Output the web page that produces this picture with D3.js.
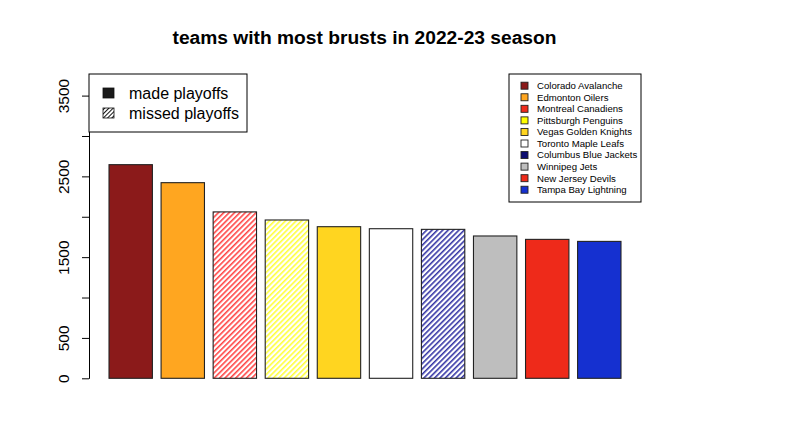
<!DOCTYPE html>
<html>
<head>
<meta charset="utf-8">
<script src="https://cdn.jsdelivr.net/npm/d3@7"></script>
<style>
  html, body { margin: 0; padding: 0; background: #fff; }
  svg { display: block; font-family: "Liberation Sans", Arial, Helvetica, sans-serif; }
</style>
</head>
<body>
<svg id="chart" width="789" height="433"></svg>
<script>
// ---- data ----
const teams = ["Colorado Avalanche", "Edmonton Oilers", "Montreal Canadiens", "Pittsburgh Penguins",
  "Vegas Golden Knights", "Toronto Maple Leafs", "Columbus Blue Jackets", "Winnipeg Jets",
  "New Jersey Devils", "Tampa Bay Lightning"];
const bursts = [2645, 2422, 2060, 1960, 1877, 1852, 1844, 1762, 1720, 1695];
const madePlayoffs = [true, true, false, false, true, true, false, true, true, true];
const teamColors = ["#8b1a1a", "#ffa620", "#ee2c1c", "#ffff00", "#ffd520", "#ffffff",
  "#0c0c70", "#bebebe", "#ee2a1a", "#1530d0"];
const hatchColors = ["#8b1a1a", "#ffa620", "#ff3a3a", "#ffff30", "#ffd520", "#ffffff",
  "#2a2aa0", "#bebebe", "#ee2a1a", "#1530d0"];
const yTicks = [0, 500, 1000, 1500, 2000, 2500, 3000, 3500];
const yLabelsShown = [0, 500, 1500, 2500, 3500];
const chartTitle = "teams with most brusts in 2022-23 season";
const statusLabels = ["made playoffs", "missed playoffs"];

// ---- drawing ----
const svg = d3.select("#chart");
const defs = svg.append("defs");

const x = d3.scaleBand().domain(teams).range([88.5, 641.5]).paddingInner(0.1667).paddingOuter(0.394);
const y = d3.scaleLinear().domain([0, 3500]).range([378.3, 95.6]);

// hatch patterns
const hs = 3.8;
teams.forEach((t, i) => {
  const p = defs.append("pattern")
    .attr("id", "hatch" + i)
    .attr("patternUnits", "userSpaceOnUse")
    .attr("width", hs).attr("height", hs)
    .attr("patternTransform", "rotate(45)");
  p.append("rect").attr("width", hs).attr("height", hs).attr("fill", "#fff");
  p.append("line").attr("x1", 0.8).attr("y1", 0).attr("x2", 0.8).attr("y2", hs)
    .attr("stroke", hatchColors[i]).attr("stroke-width", 1.5);
});
const lp = defs.append("pattern")
  .attr("id", "legendHatch").attr("patternUnits", "userSpaceOnUse")
  .attr("width", 3).attr("height", 3).attr("patternTransform", "rotate(45)");
lp.append("rect").attr("width", 3).attr("height", 3).attr("fill", "#fff");
lp.append("line").attr("x1", 0.5).attr("y1", 0).attr("x2", 0.5).attr("y2", 3)
  .attr("stroke", "#111").attr("stroke-width", 1);

// bars
svg.append("g").selectAll("rect").data(teams).join("rect")
  .attr("x", d => x(d))
  .attr("y", (d, i) => y(bursts[i]))
  .attr("width", x.bandwidth())
  .attr("height", (d, i) => y(0) - y(bursts[i]))
  .attr("fill", (d, i) => madePlayoffs[i] ? teamColors[i] : `url(#hatch${i})`)
  .attr("stroke", "#222").attr("stroke-width", 1.1);

// y axis
const yAxis = d3.axisLeft(y).tickValues(yTicks).tickSize(7).tickSizeOuter(0)
  .tickFormat(d => yLabelsShown.includes(d) ? d : "");
const ga = svg.append("g").attr("transform", "translate(89,0)").call(yAxis);
ga.select(".domain").attr("stroke", "#000");
ga.selectAll(".tick line").attr("stroke", "#000");
ga.selectAll(".tick text")
  .attr("font-size", 15.5).attr("fill", "#000")
  .attr("font-family", "Liberation Sans, Arial, sans-serif")
  .attr("text-anchor", "middle")
  .attr("x", null).attr("dy", null)
  .attr("transform", "translate(-20,0) rotate(-90)");

// title
svg.append("text").attr("x", 364.5).attr("y", 44)
  .attr("text-anchor", "middle").attr("font-weight", "bold").attr("font-size", 19.2)
  .text(chartTitle);

// legend 1 (status)
const l1 = svg.append("g");
l1.append("rect").attr("x", 89).attr("y", 74).attr("width", 158).attr("height", 58)
  .attr("fill", "#fff").attr("stroke", "#000");
statusLabels.forEach((s, i) => {
  const cy = 93 + i * 20;
  l1.append("rect").attr("x", 103).attr("y", cy - 5).attr("width", 11).attr("height", 10)
    .attr("fill", i === 0 ? "#1a1a1a" : "url(#legendHatch)").attr("stroke", "#111").attr("stroke-width", 0.8);
  l1.append("text").attr("x", 129).attr("y", cy + 5.5).attr("font-size", 16).text(s);
});

// legend 2 (teams)
const l2 = svg.append("g");
l2.append("rect").attr("x", 509).attr("y", 74).attr("width", 132).attr("height", 128)
  .attr("fill", "#fff").attr("stroke", "#000");
teams.forEach((t, i) => {
  const cy = 85.7 + i * 11.56;
  l2.append("rect").attr("x", 521).attr("y", cy - 3.5).attr("width", 7).attr("height", 7)
    .attr("fill", teamColors[i]).attr("stroke", "#222").attr("stroke-width", 0.9);
  l2.append("text").attr("x", 537).attr("y", cy + 3.4).attr("font-size", 9.6).text(t);
});
</script>
</body>
</html>
